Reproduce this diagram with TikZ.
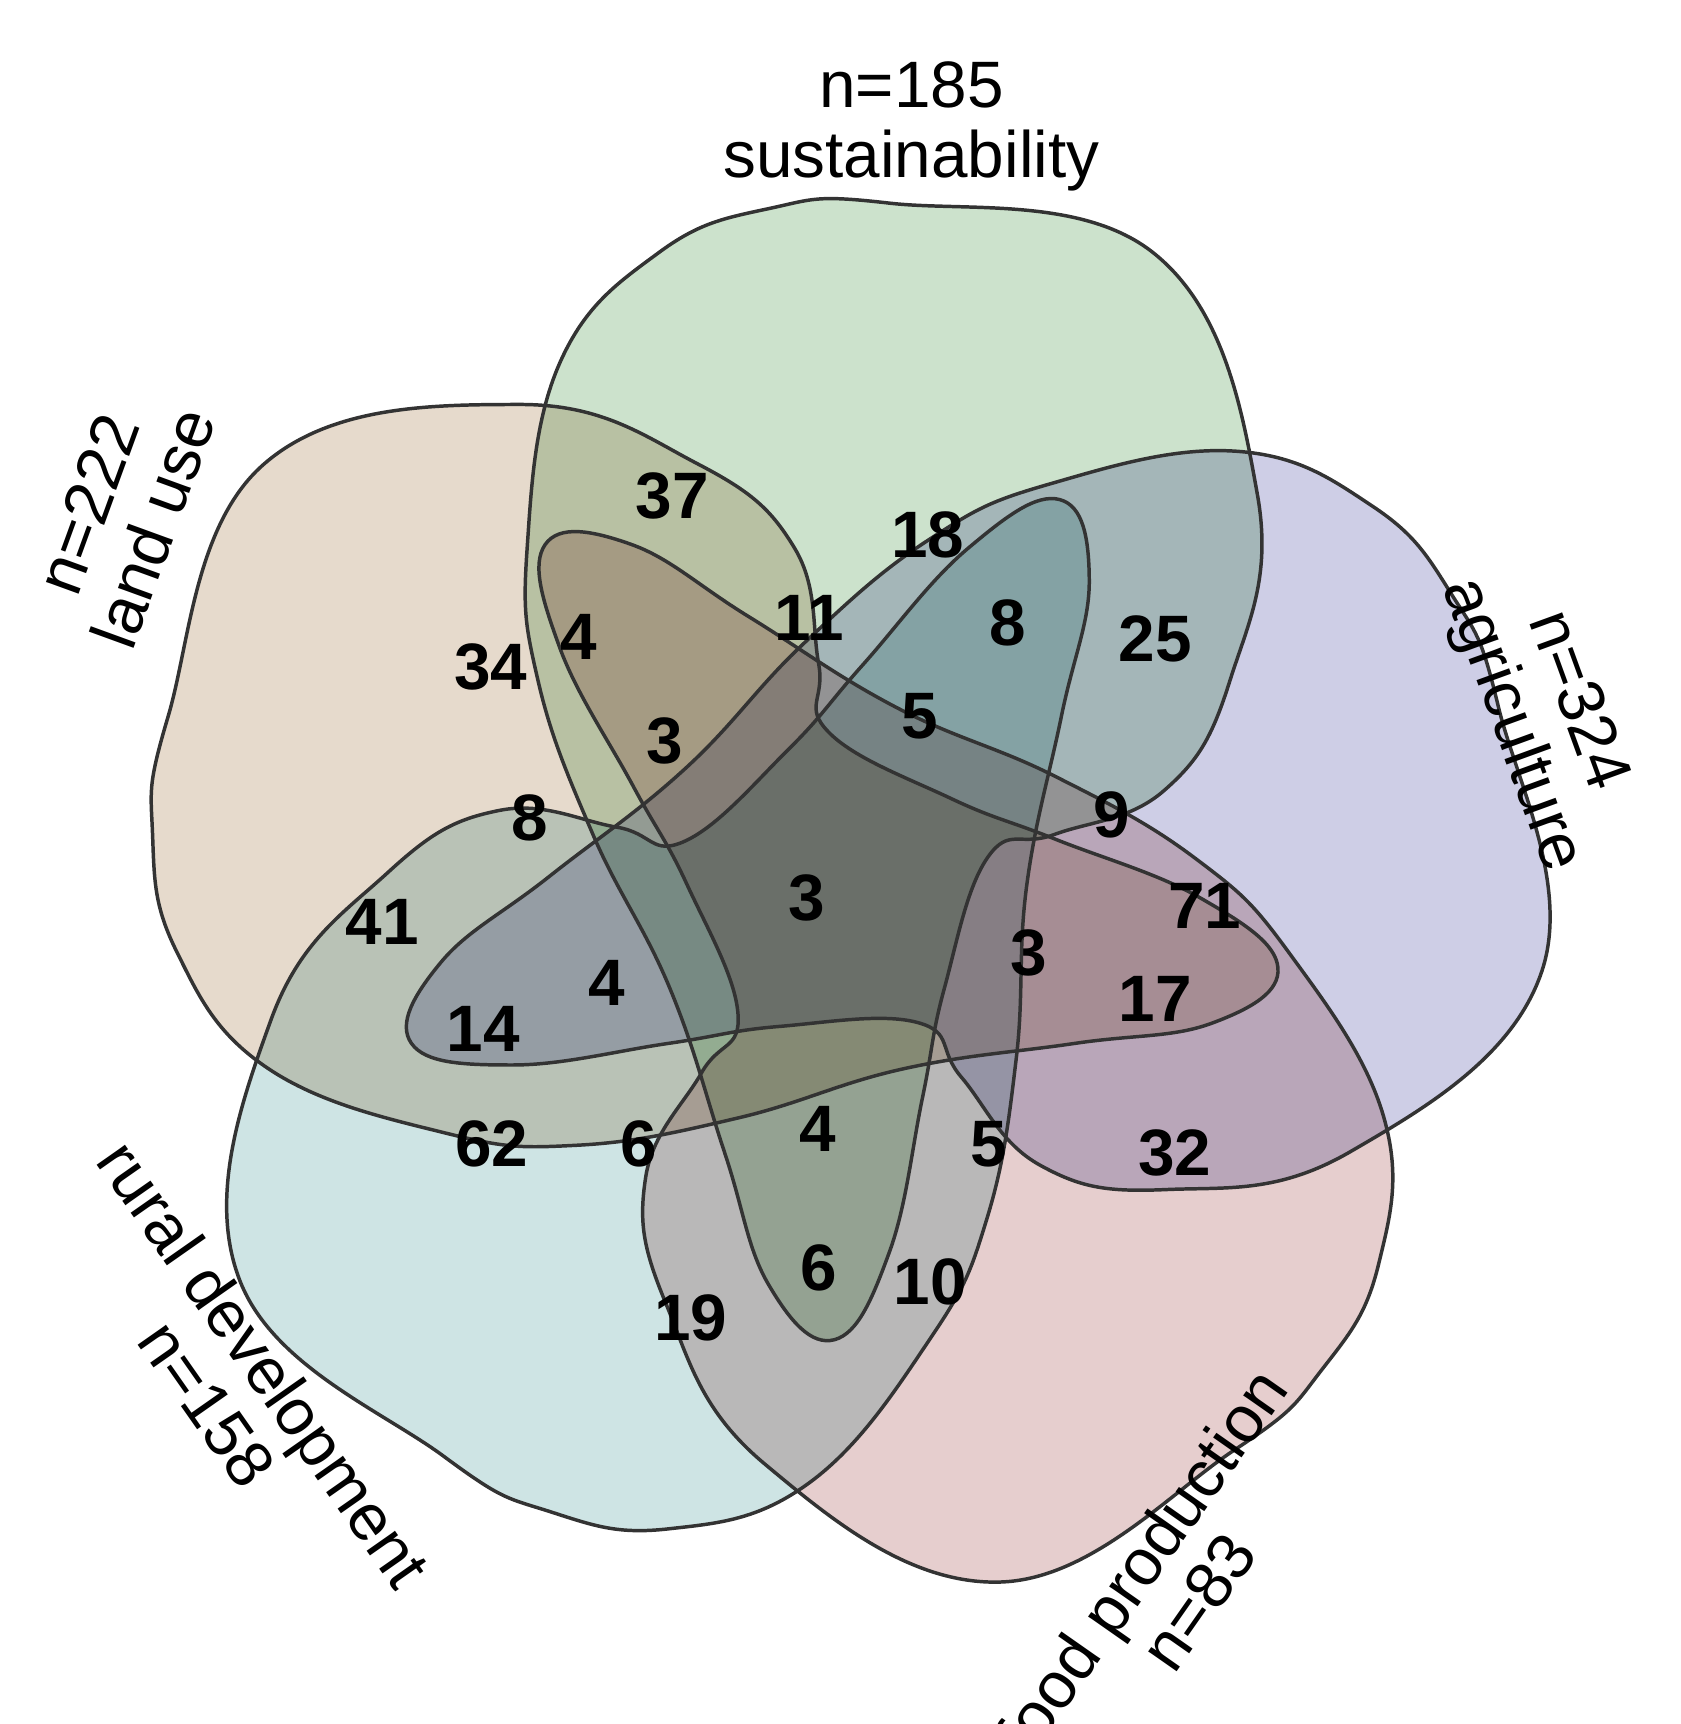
\documentclass[tikz,border=0pt]{standalone}
\usepackage{fontspec}
\setmainfont{Liberation Sans}
\usepackage{tikz}
\def\petal{plot[smooth cycle,tension=0.7] coordinates {(50,-625) (290,-580) (385,-360) (360,-190) (300,-90) (200,-50) (140,-30) (100,90) (80,190) (50,330) (0,410) (-60,360) (-100,240) (-150,90) (-220,-50) (-270,-190) (-280,-310) (-250,-480) (-160,-580) (-60,-620)}}

\begin{document}
\begin{tikzpicture}[x=0.01cm,y=-0.01cm]
    \tikzstyle{set}=[draw=black!80,line width=0.9pt]
    \tikzstyle{count}=[font=\fontsize{17}{20}\selectfont\bfseries]
    \tikzstyle{set label}=[font=\fontsize{17}{20}\selectfont,align=center]
    \definecolor{sust}{RGB}{204,226,204}
    \definecolor{land}{RGB}{206,206,230}
    \definecolor{rural}{RGB}{230,206,206}
    \definecolor{food}{RGB}{206,228,228}
    \definecolor{agri}{RGB}{230,218,204}
    \useasboundingbox (0,0) rectangle (1530,1570);

    % the five sets
    \begin{scope}[blend group=multiply]
        \fill[sust]  [shift={(760,810)},rotate=0]    \petal;
        \fill[land]  [shift={(760,810)},rotate=-70]  \petal;
        \fill[rural] [shift={(760,810)},rotate=-140] \petal;
        \fill[food]  [shift={(760,810)},rotate=-210] \petal;
        \fill[agri]  [shift={(760,810)},rotate=-280] \petal;
    \end{scope}
    \foreach \a in {0,-70,-140,-210,-280}
        \draw[set] [shift={(760,810)},rotate=\a] \petal;

    % region counts
    \foreach \nm/\v/\px/\py in {a/37/612/452, b/18/845/487, c/11/737/563, d/8/918/567,
        e/25/1052/582, f/4/527/580, g/34/447/607, h/3/605/675, i/5/838/652,
        j/8/482/745, k/9/1012/742, l/3/735/818, m/71/1097/825, o/41/348/840,
        p/4/553/895, q/3/937/868, r/14/440/937, s/17/1052/910, t/62/448/1042,
        u/6/582/1042, v/4/745/1028, w/5/900/1042, x/32/1070/1050, y/6/746/1155,
        z/10/847/1167, zz/19/629/1200}
        \node[count] (N-\nm) at (\px,\py) {\v};

    % set names
    \node[set label] (sust) at (830,115) {n=185\\[-2pt]sustainability};
    \node[set label,rotate=70] (land) at (110,470) {n=222\\[-2pt]land use};
    \node[set label,rotate=-70] (agri) at (1405,650) {n=324\\[-2pt]agriculture};
    \node[set label,rotate=-55] (rural) at (215,1260) {rural development\\[-2pt]n=158};
    \node[set label,rotate=55] (food) at (1065,1440) {food production\\[-2pt]n=83};
\end{tikzpicture}
\end{document}
